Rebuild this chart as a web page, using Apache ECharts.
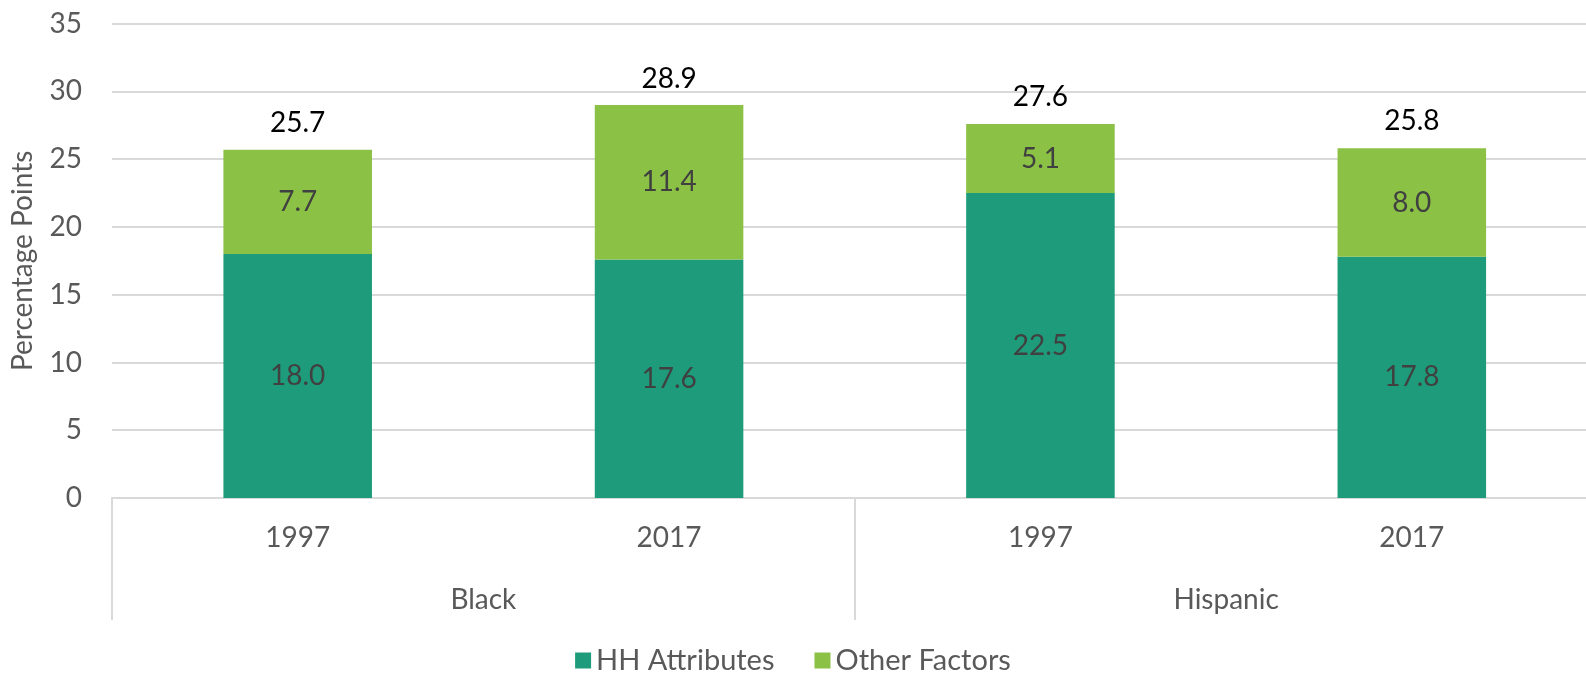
<!DOCTYPE html>
<html>
<head>
<meta charset="utf-8">
<script src="https://cdn.jsdelivr.net/npm/echarts@6/dist/echarts.min.js"></script>
<style>html,body{margin:0;padding:0;background:#fff}#c{width:1586px;height:674px}</style>
</head>
<body>
<div id="c"></div>
<script>
const years = ['1997', '2017', '1997', '2017'];
const groups = ['Black', 'Hispanic'];
const hhAttributes = [18.0, 17.6, 22.5, 17.8];
const otherFactors = [7.7, 11.4, 5.1, 8.0];
const totals = [25.7, 28.9, 27.6, 25.8];
const yTicks = [0, 5, 10, 15, 20, 25, 30, 35];

const FONT = 'Lato, Carlito, "Open Sans", sans-serif';
const FS = 28;
const chart = echarts.init(document.getElementById('c'));
chart.setOption({
  animation: false,
  textStyle: { fontFamily: FONT },
  grid: { left: 112, right: -11.5, top: 23.7, bottom: 176, containLabel: false, outerBoundsMode: 'none' },
  legend: {
    bottom: -6, left: 'center',
    data: ['HH Attributes', 'Other Factors'],
    icon: 'rect', itemWidth: 16, itemHeight: 16, itemGap: 40,
    textStyle: { fontSize: 29, color: '#595959', fontFamily: FONT }
  },
  xAxis: [
    {
      type: 'category', data: years, position: 'bottom',
      axisLine: { show: true, lineStyle: { color: '#D9D9D9', width: 2 } },
      axisTick: { show: false },
      axisLabel: { fontSize: FS, color: '#595959', margin: 26, fontFamily: FONT }
    },
    {
      type: 'category', data: groups, position: 'bottom',
      axisLine: { show: false },
      axisTick: { show: true, length: 122, lineStyle: { color: '#D9D9D9', width: 2 } },
      axisLabel: { fontSize: FS, color: '#595959', margin: 88, fontFamily: FONT }
    }
  ],
  yAxis: {
    type: 'value', min: 0, max: 35, interval: 5,
    name: 'Percentage Points', nameLocation: 'middle', nameGap: 75, nameRotate: 90,
    nameTextStyle: { fontSize: 28, color: '#595959', fontFamily: FONT },
    axisLine: { show: false }, axisTick: { show: false },
    axisLabel: { fontSize: FS, color: '#595959', margin: 30, fontFamily: FONT,
      formatter: v => yTicks.includes(v) ? String(v) : '' },
    splitLine: { lineStyle: { color: '#D9D9D9', width: 2 } }
  },
  series: [
    {
      name: 'HH Attributes', type: 'bar', stack: 'a', barWidth: '40%', xAxisIndex: 0,
      data: hhAttributes,
      itemStyle: { color: '#1E9B7A' },
      label: { show: true, position: 'inside', fontSize: FS, color: '#404040', fontFamily: FONT,
        formatter: p => p.value.toFixed(1) }
    },
    {
      name: 'Other Factors', type: 'bar', stack: 'a', barWidth: '40%', xAxisIndex: 0,
      data: otherFactors,
      itemStyle: { color: '#8BC145' },
      label: { show: true, position: 'inside', fontSize: FS, color: '#404040', fontFamily: FONT,
        formatter: p => p.value.toFixed(1) }
    },
    {
      name: 'Total', type: 'bar', barWidth: '40%', barGap: '-100%', xAxisIndex: 0,
      data: totals, silent: true, z: 0,
      itemStyle: { color: 'rgba(0,0,0,0)' },
      label: { show: true, position: 'top', distance: 13, fontSize: FS, color: '#000000', fontFamily: FONT,
        formatter: p => p.value.toFixed(1) }
    }
  ]
});
</script>
</body>
</html>
